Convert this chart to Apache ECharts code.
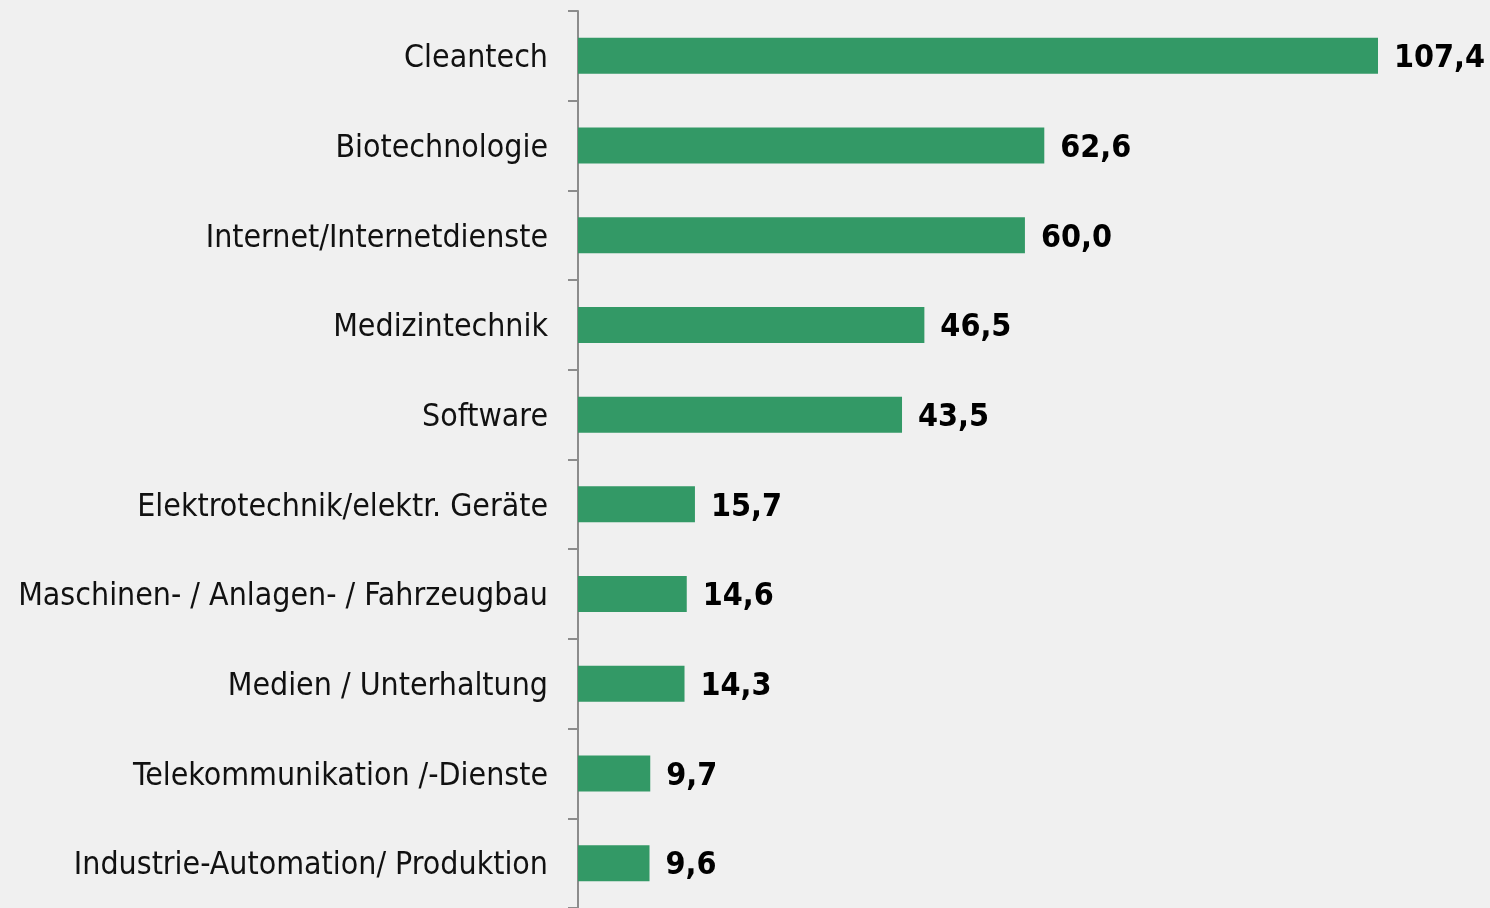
<!DOCTYPE html>
<html>
<head>
<meta charset="utf-8">
<script src="https://cdn.jsdelivr.net/npm/echarts@6/dist/echarts.min.js"></script>
<style>
  html, body { margin: 0; padding: 0; background: #f0f0f0; }
  #chart { width: 1490px; height: 908px; }
</style>
</head>
<body>
<div id="chart"></div>
<script>
// Branchen, von oben nach unten
const branchen = [
  'Cleantech',
  'Biotechnologie',
  'Internet/Internetdienste',
  'Medizintechnik',
  'Software',
  'Elektrotechnik/elektr. Geräte',
  'Maschinen- / Anlagen- / Fahrzeugbau',
  'Medien / Unterhaltung',
  'Telekommunikation /-Dienste',
  'Industrie-Automation/ Produktion'
]
const werte = [107.4, 62.6, 60.0, 46.5, 43.5, 15.7, 14.6, 14.3, 9.7, 9.6]

const fontFam = '"DejaVu Sans Condensed", "DejaVu Sans", sans-serif'

const myChart = echarts.init(document.getElementById('chart'))
myChart.setOption({
  backgroundColor: '#f0f0f0',
  animation: false,
  grid: { left: 578, top: 11, width: 800, height: 900 },
  xAxis: {
    type: 'value',
    min: 0,
    max: 107.4,
    show: false
  },
  yAxis: {
    type: 'category',
    inverse: true,
    data: branchen,
    axisLine: { lineStyle: { color: '#8c8c8c', width: 2 } },
    axisTick: { show: true, length: 10, lineStyle: { color: '#8c8c8c', width: 2 } },
    axisLabel: {
      margin: 30,
      color: '#111',
      fontSize: 31.8,
      fontFamily: fontFam,
      verticalAlign: 'top',
      lineHeight: 6
    }
  },
  series: [{
    type: 'bar',
    data: werte,
    barWidth: 36,
    itemStyle: { color: '#339966' },
    label: {
      show: true,
      position: 'right',
      distance: 16,
      offset: [0, 3],
      color: '#000',
      fontSize: 32,
      fontWeight: 'bold',
      fontFamily: fontFam,
      formatter: p => p.value.toFixed(1).replace('.', ',')
    }
  }]
})
</script>
</body>
</html>
